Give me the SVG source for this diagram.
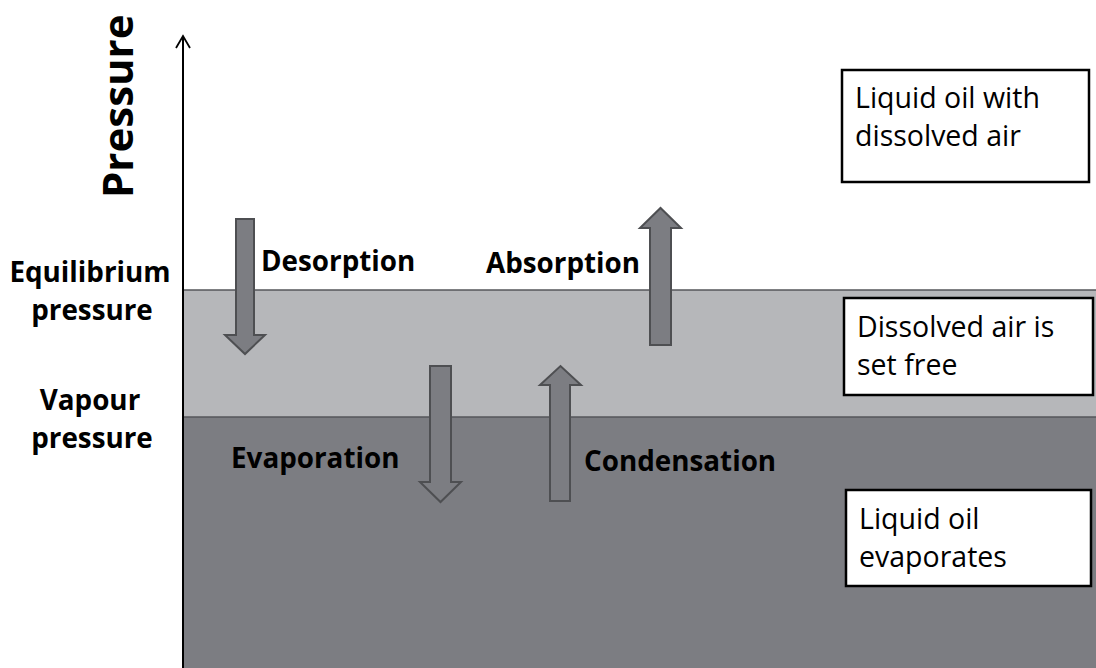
<svg xmlns="http://www.w3.org/2000/svg" width="1096" height="668" viewBox="0 0 1096 668">
  <defs>
    <style>
      .band-line { stroke: #55565a; stroke-width: 1.5; }
      .flow { fill: #7c7d82; stroke: #4e4f52; stroke-width: 2; stroke-linejoin: miter; }
      .lbl { font-family: "Open Sans", "Liberation Sans", sans-serif; font-weight: bold; font-size: 27.8px; fill: #000; }
      .box rect { fill: #fff; stroke: #000; stroke-width: 2.5; }
      .box text { font-family: "Open Sans", "Liberation Sans", sans-serif; font-size: 28.5px; fill: #000; }
    </style>
  </defs>

  <rect width="1096" height="668" fill="#fff"/>

  <!-- pressure regions -->
  <g id="regions">
    <rect x="183" y="290" width="913" height="127" fill="#b6b7ba"/>
    <rect x="183" y="417" width="913" height="251" fill="#7c7d82"/>
    <line class="band-line" x1="183" y1="290" x2="1096" y2="290"/>
    <line class="band-line" x1="183" y1="417" x2="1096" y2="417"/>
  </g>

  <!-- pressure axis -->
  <g id="axis">
    <line x1="183" y1="668" x2="183" y2="36" stroke="#000" stroke-width="2"/>
    <path d="M176,48 L183,36 L190,48" fill="none" stroke="#000" stroke-width="1.8"/>
    <text class="lbl" transform="translate(133,198) rotate(-90)" style="font-size:42px">Pressure</text>
  </g>

  <!-- axis level labels -->
  <g id="level-labels">
    <text class="lbl" x="90" y="282" text-anchor="middle">Equilibrium</text>
    <text class="lbl" x="92" y="320" text-anchor="middle">pressure</text>
    <text class="lbl" x="90" y="410" text-anchor="middle">Vapour</text>
    <text class="lbl" x="92" y="448" text-anchor="middle">pressure</text>
  </g>

  <!-- process arrows -->
  <g id="connectors">
    <g id="desorption">
      <path class="flow" d="M236,219 H254 V335 H265 L245,354 L225,335 H236 Z"/>
      <text class="lbl" x="261" y="271">Desorption</text>
    </g>
    <g id="absorption">
      <path class="flow" d="M650,345 V228 H640 L660.5,208 L681,228 H671 V345 Z"/>
      <text class="lbl" x="486" y="273">Absorption</text>
    </g>
    <g id="evaporation">
      <path class="flow" d="M430,366 H451 V482 H461 L440.5,502 L420,482 H430 Z"/>
      <text class="lbl" x="231" y="468">Evaporation</text>
    </g>
    <g id="condensation">
      <path class="flow" d="M550,501 V385 H540 L560.5,366 L581,385 H570 V501 Z"/>
      <text class="lbl" x="584" y="471">Condensation</text>
    </g>
  </g>

  <!-- state boxes -->
  <g id="box-dissolved" class="box">
    <rect x="842" y="70" width="247" height="112"/>
    <text x="855" y="108">Liquid oil with</text>
    <text x="855" y="146">dissolved air</text>
  </g>
  <g id="box-free" class="box">
    <rect x="844" y="298" width="249" height="97"/>
    <text x="857" y="337">Dissolved air is</text>
    <text x="857" y="375">set free</text>
  </g>
  <g id="box-evaporates" class="box">
    <rect x="846" y="490" width="245" height="96"/>
    <text x="859" y="529">Liquid oil</text>
    <text x="859" y="567">evaporates</text>
  </g>
</svg>
